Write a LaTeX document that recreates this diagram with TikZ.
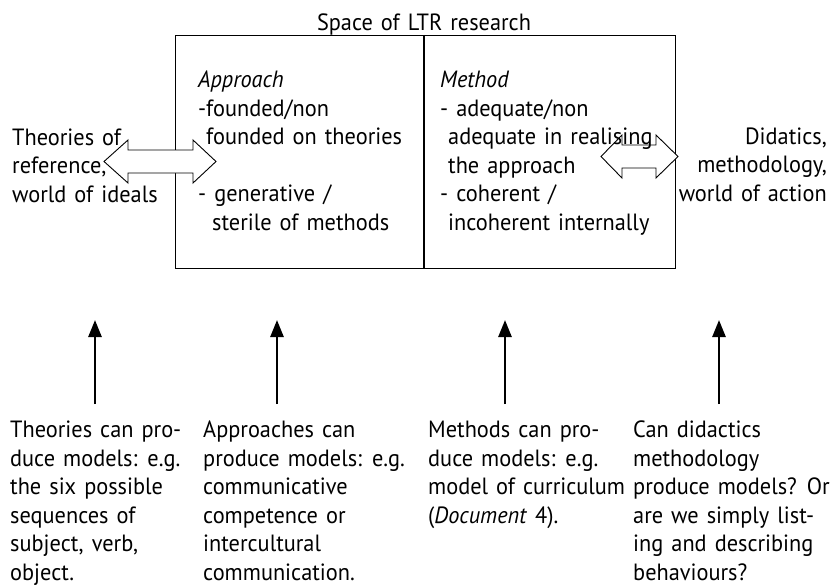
\documentclass[tikz,border=0pt]{standalone}
\usepackage{fontspec}
\setmainfont{PT Sans}[FakeStretch=0.95, WordSpace=1.35]
\usetikzlibrary{arrows.meta}
\begin{document}
\begin{tikzpicture}[x=1pt,y=-1pt,
  txt/.style={inner sep=0pt, font=\fontsize{23.5}{28.5}\selectfont},
  lbl/.style={txt, anchor=base west},
  rlbl/.style={txt, anchor=base east},
  frame/.style={draw, line width=1.2pt},
  dblarrow/.style={draw, fill=white, line width=0.9pt, line join=miter},
  uparrow/.style={line width=2.6pt, -{Triangle[length=17pt,width=13pt]}}
]
\useasboundingbox (0,0) rectangle (835,586);

% the research space, split in two halves
\node[frame, inner sep=0pt, minimum width=500pt, minimum height=233pt, anchor=north west] (space) at (175,35) {};
\coordinate (divt) at (424,35);
\coordinate (divb) at (424,268);
\draw[line width=1.2pt] (divt) -- (divb);

% double block arrows between the side labels and the space
\coordinate (la) at (104,161.5);
\coordinate (ra) at (601,156.5);
\draw[dblarrow] (la) -- ++(24,-21.5) -- ++(0,10) -- ++(65,0) -- ++(0,-10)
  -- ++(23,21.5) -- ++(-23,21.5) -- ++(0,-10) -- ++(-65,0) -- ++(0,10) -- cycle;
\draw[dblarrow] (ra) -- ++(21,-21.5) -- ++(0,10) -- ++(34,0) -- ++(0,-10)
  -- ++(22,21.5) -- ++(-22,21.5) -- ++(0,-10) -- ++(-34,0) -- ++(0,10) -- cycle;

% title
\node[txt, anchor=base] (title) at (424,31) {Space of LTR research};

% contents of the two halves
\node[lbl] (approach) at (198,88) {\begin{tabular}[t]{@{}l@{}}
  \textit{Approach}\\
  -founded/non\\
  \hspace{8pt}founded on theories\\
  \\
  - generative /\\
  \hspace{14pt}sterile of methods
\end{tabular}};
\node[lbl] (method) at (440,88) {\begin{tabular}[t]{@{}l@{}}
  \textit{Method}\\
  - adequate/non\\
  \hspace{8pt}adequate in realising\\
  \hspace{8pt}the approach\\
  - coherent /\\
  \hspace{8pt}incoherent internally
\end{tabular}};

% side labels
\node[lbl] (ideals) at (12,145) {\begin{tabular}[t]{@{}l@{}}Theories of\\reference,\\world of ideals\end{tabular}};
\node[rlbl] (action) at (827,144) {\begin{tabular}[t]{@{}r@{}}Didatics,\\methodology,\\world of action\end{tabular}};

% upward arrows
\foreach \i/\x in {1/95, 2/277, 3/505, 4/719} {
  \coordinate (b\i) at (\x,404);
  \coordinate (t\i) at (\x,320);
  \draw[uparrow] (b\i) -- (t\i);
}

% notes about models
\node[lbl] (n1) at (10,437.5) {\begin{tabular}[t]{@{}l@{}}Theories can pro-\\duce models: e.g.\\the six possible\\sequences of\\subject, verb,\\object.\end{tabular}};
\node[lbl] (n2) at (203,437.5) {\begin{tabular}[t]{@{}l@{}}Approaches can\\produce models: e.g.\\communicative\\competence or\\intercultural\\communication.\end{tabular}};
\node[lbl] (n3) at (428,437.5) {\begin{tabular}[t]{@{}l@{}}Methods can pro-\\duce models: e.g.\\model of curriculum\\(\textit{Document} 4).\end{tabular}};
\node[lbl] (n4) at (633,437.5) {\begin{tabular}[t]{@{}l@{}}Can didactics\\methodology\\produce models? Or\\are we simply list-\\ing and describing\\behaviours?\end{tabular}};
\end{tikzpicture}
\end{document}
